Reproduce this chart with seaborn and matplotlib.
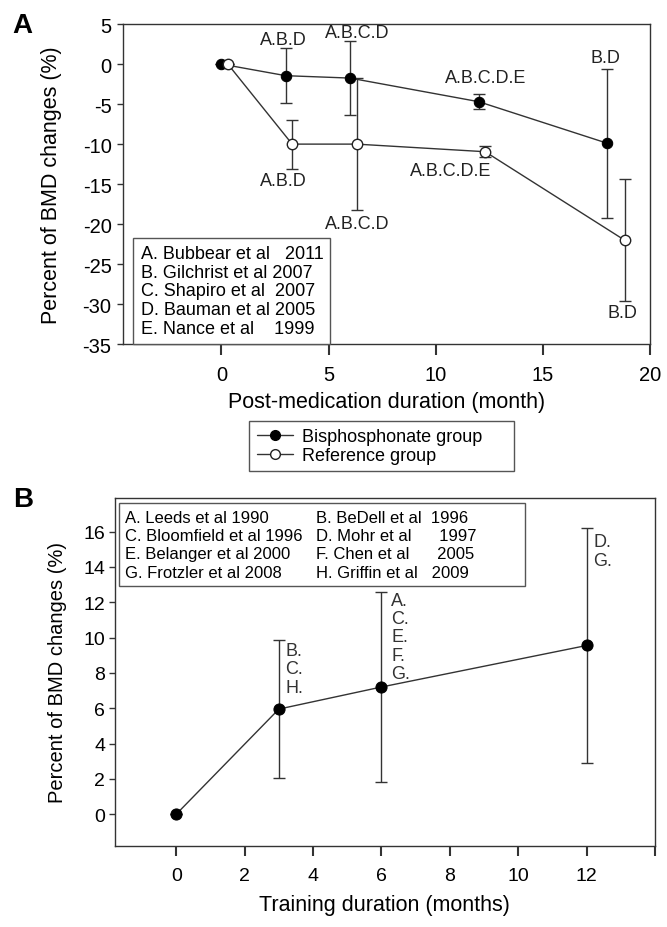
import matplotlib
matplotlib.use('Agg')
import matplotlib.pyplot as plt
import seaborn as sns
from matplotlib.lines import Line2D

# Panel A: bisphosphonate vs reference
bis_month = [0, 3, 6, 12, 18]
bis_change = [0, -1.45, -1.75, -4.7, -9.9]
bis_err = [0, 3.45, 4.65, 0.95, 9.3]
ref_month = [0.3, 3.3, 6.3, 12.3, 18.8]
ref_change = [0, -10, -10, -10.95, -22]
ref_err = [0, 3.05, 8.25, 0.7, 7.6]
bis_notes = ['A.B.D', 'A.B.C.D', 'A.B.C.D.E', 'B.D']
ref_notes = ['A.B.D', 'A.B.C.D', 'A.B.C.D.E', 'B.D']
studies_a = ['A. Bubbear et al   2011', 'B. Gilchrist et al 2007', 'C. Shapiro et al  2007',
             'D. Bauman et al 2005', 'E. Nance et al    1999']
groups = ['Bisphosphonate group', 'Reference group']
a_xticks = [0, 5, 10, 15, 20]
a_yticks = [5, 0, -5, -10, -15, -20, -25, -30, -35]

# Panel B: training
train_month = [0, 3, 6, 12]
train_change = [0, 5.95, 7.2, 9.55]
train_err = [0, 3.9, 5.4, 6.65]
train_notes = ['B.\nC.\nH.', 'A.\nC.\nE.\nF.\nG.', 'D.\nG.']
studies_b = ['A. Leeds et al 1990', 'C. Bloomfield et al 1996', 'E. Belanger et al 2000',
             'G. Frotzler et al 2008', 'B. BeDell et al  1996', 'D. Mohr et al      1997',
             'F. Chen et al      2005', 'H. Griffin et al   2009']
b_xticks = [0, 2, 4, 6, 8, 10, 12, 14]
b_xticklabels = ['0', '2', '4', '6', '8', '10', '12', '']
b_yticks = [0, 2, 4, 6, 8, 10, 12, 14, 16]

sns.set_theme(style='ticks')
plt.rcParams['font.family'] = ['Liberation Sans', 'DejaVu Sans']
plt.rcParams['axes.unicode_minus'] = False
plt.rcParams['text.color'] = 'black'
plt.rcParams['axes.labelcolor'] = 'black'
plt.rcParams['axes.edgecolor'] = '#333333'
plt.rcParams['axes.linewidth'] = 1.0
plt.rcParams['xtick.color'] = '#333333'
plt.rcParams['ytick.color'] = '#333333'
plt.rcParams['xtick.labelcolor'] = 'black'
plt.rcParams['ytick.labelcolor'] = 'black'

line_c = '#333333'
fig = plt.figure(figsize=(6.67, 9.28), dpi=100)

# ---------- A ----------
ax = fig.add_axes([0.184, 0.628, 0.791, 0.345])
ax.errorbar(bis_month, bis_change, yerr=bis_err, fmt='none', ecolor=line_c,
            elinewidth=1, capsize=4, capthick=1, zorder=2)
ax.errorbar(ref_month, ref_change, yerr=ref_err, fmt='none', ecolor=line_c,
            elinewidth=1, capsize=4, capthick=1, zorder=2)
sns.lineplot(x=bis_month, y=bis_change, color=line_c, lw=1, marker='o', ms=7.5,
             markerfacecolor='black', markeredgecolor='black', ax=ax, zorder=3)
sns.lineplot(x=ref_month, y=ref_change, color=line_c, lw=1, marker='o', ms=7.5,
             markerfacecolor='white', markeredgecolor='#222222', markeredgewidth=1,
             ax=ax, zorder=4)

for txt, (x, y) in zip(bis_notes, [(2.88, 3.1), (6.35, 3.9), (12.3, -1.7), (17.9, 0.8)]):
    ax.text(x, y, txt, ha='center', va='center', fontsize=13, color='#222222')
for txt, (x, y) in zip(ref_notes, [(2.88, -14.5), (6.35, -19.9), (10.7, -13.25), (18.7, -31.0)]):
    ax.text(x, y, txt, ha='center', va='center', fontsize=13, color='#222222')

ax.set_xlim(-4.6, 20)
ax.set_ylim(-35, 5)
ax.set_xticks(a_xticks)
ax.set_yticks(a_yticks)
ax.tick_params(axis='x', length=8, width=1.5, pad=7, labelsize=14.5)
ax.tick_params(axis='y', length=4, width=1, pad=4, labelsize=14.5)
ax.set_xlabel('Post-medication duration (month)', fontsize=15.5)
ax.set_ylabel('Percent of BMD changes (%)', fontsize=15.5)
ax.xaxis.set_label_coords(0.5, -0.147)
ax.yaxis.set_label_coords(-0.115, 0.5)

blank = [Line2D([], [], linestyle='none') for _ in studies_a]
leg_a = ax.legend(blank, studies_a, loc='lower left', bbox_to_anchor=(0.02, 0.0),
                  fontsize=13, handlelength=0, handletextpad=0, labelspacing=0.1,
                  borderpad=0.4, fancybox=False, framealpha=1, edgecolor='#555555',
                  borderaxespad=0)
leg_a.get_frame().set_linewidth(1)
ax.add_artist(leg_a)
grp = [Line2D([], [], color=line_c, lw=1, marker='o', ms=7, markerfacecolor='black',
              markeredgecolor='black'),
       Line2D([], [], color=line_c, lw=1, marker='o', ms=7, markerfacecolor='white',
              markeredgecolor='#222222')]
leg_g = ax.legend(grp, [g + '     ' for g in groups], loc='upper left',
                  bbox_to_anchor=(0.24, -0.24), fontsize=13, handlelength=2.0,
                  handletextpad=0.5, labelspacing=0.1, borderpad=0.4, fancybox=False,
                  framealpha=1, edgecolor='#555555', borderaxespad=0)
leg_g.get_frame().set_linewidth(1)

# ---------- B ----------
bx = fig.add_axes([0.172, 0.0873, 0.810, 0.375])
bx.errorbar(train_month, train_change, yerr=train_err, fmt='none', ecolor=line_c,
            elinewidth=1, capsize=4, capthick=1, zorder=2)
sns.lineplot(x=train_month, y=train_change, color=line_c, lw=1, marker='o', ms=8,
             markerfacecolor='black', markeredgecolor='black', ax=bx, zorder=3)
for txt, (x, y) in zip(train_notes, [(3.18, 9.75), (6.28, 12.6), (12.2, 15.9)]):
    bx.text(x, y, txt, ha='left', va='top', fontsize=13, linespacing=1.1, color='#333333')

bx.set_xlim(-1.8, 14)
bx.set_ylim(-1.8, 17.9)
bx.set_xticks(b_xticks)
bx.set_xticklabels(b_xticklabels)
bx.set_yticks(b_yticks)
bx.tick_params(axis='x', length=7, width=1.5, pad=8, labelsize=14)
bx.tick_params(axis='y', length=4, width=1, pad=3, labelsize=14)
bx.set_xlabel('Training duration (months)', fontsize=15.5)
bx.set_ylabel('Percent of BMD changes (%)', fontsize=14.5)
bx.xaxis.set_label_coords(0.5, -0.138)
bx.yaxis.set_label_coords(-0.089, 0.5)

blank_b = [Line2D([], [], linestyle='none') for _ in studies_b]
labels_b = studies_b[:4] + [s + '         ' for s in studies_b[4:]]
leg_b = bx.legend(blank_b, labels_b, loc='upper left', bbox_to_anchor=(0.007, 0.986),
                  ncol=2, fontsize=12, handlelength=0, handletextpad=0, labelspacing=0.2,
                  columnspacing=0.8, borderpad=0.4, fancybox=False, framealpha=1,
                  edgecolor='#555555', borderaxespad=0)
leg_b.get_frame().set_linewidth(1)

fig.text(0.034, 0.972, 'A', fontsize=20, fontweight='bold', ha='center', va='center')
fig.text(0.034, 0.461, 'B', fontsize=20, fontweight='bold', ha='center', va='center')

fig.savefig('out.png', dpi=100)
